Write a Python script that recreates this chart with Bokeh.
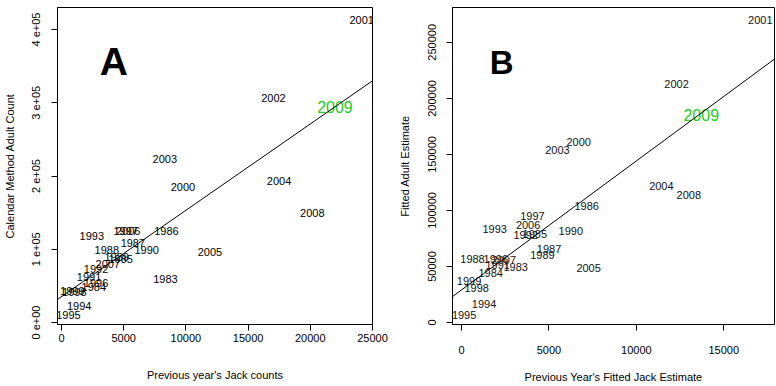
from bokeh.plotting import figure
from bokeh.layouts import row
from bokeh.models import FixedTicker, Slope, ColumnDataSource, Range1d
from bokeh.core.properties import value
from bokeh.embed import file_html
from bokeh.resources import INLINE

FONT = "Liberation Sans"

# ---------------- Panel A data ----------------
a_years = ["1983", "1984", "1985", "1986", "1987", "1988", "1989", "1990", "1991", "1992",
           "1993", "1994", "1995", "1996", "1997", "1998", "1999", "2000", "2001", "2002",
           "2003", "2004", "2005", "2006", "2007", "2008"]
a_jacks = [8360, 2600, 4760, 8440, 5740, 3650, 4440, 6850, 2220, 2780,
           2440, 1430, 560, 2780, 5160, 1030, 870, 9760, 24130, 17040,
           8310, 17490, 11930, 5360, 3730, 20160]
a_adults = [58800, 48800, 86800, 124400, 108100, 99100, 89600, 99000, 62400, 73300,
            117600, 22400, 10900, 54300, 124400, 42100, 43400, 185000, 412500, 306200,
            223500, 193100, 96700, 125100, 80100, 149300]
a_2009_x = [21980]
a_2009_y = [294000]
a_fit_intercept = 35300
a_fit_slope = 11.79
a_xticks = [0, 5000, 10000, 15000, 20000, 25000]
a_yticks = [0, 100000, 200000, 300000, 400000]
a_ytick_labels = ["0 e+00", "1 e+05", "2 e+05", "3 e+05", "4 e+05"]

# ---------------- Panel B data ----------------
b_years = ["1983", "1984", "1985", "1986", "1987", "1988", "1989", "1990", "1991", "1992",
           "1993", "1994", "1995", "1996", "1997", "1998", "1999", "2000", "2001", "2002",
           "2003", "2004", "2005", "2006", "2007", "2008"]
b_jacks = [3100, 1670, 4190, 7160, 5010, 630, 4630, 6250, 2070, 3670,
           1900, 1290, 150, 1960, 4060, 870, 430, 6700, 17090, 12300,
           5490, 11430, 7270, 3810, 2420, 13000]
b_adults = [49600, 44500, 79200, 103700, 66000, 56900, 60100, 82100, 51300, 77700,
            83600, 16700, 7000, 56600, 95100, 30800, 37200, 160900, 269900, 212400,
            153700, 121500, 48700, 87100, 56200, 114100]
b_2009_x = [13710]
b_2009_y = [185400]
b_fit_intercept = 29070
b_fit_slope = 11.51
b_xticks = [0, 5000, 10000, 15000]
b_yticks = [0, 50000, 100000, 150000, 200000, 250000]

GREEN = "#22cc22"


def style(p, xticks, yticks, ylabels, xstand, xlab_stand, ystand, ylab_stand):
    p.grid.visible = False
    p.outline_line_color = "black"
    p.outline_line_width = 1
    p.background_fill_color = "white"
    p.border_fill_color = "white"
    for ax in (p.xaxis[0], p.yaxis[0]):
        ax.axis_line_color = "black"
        ax.major_tick_line_color = "black"
        ax.minor_tick_line_color = None
        ax.major_tick_out = 6
        ax.major_tick_in = 0
        ax.major_label_text_font = FONT
        ax.major_label_text_font_size = "11px"
        ax.major_label_text_color = "black"
        ax.axis_label_text_font = FONT
        ax.axis_label_text_font_size = "11px"
        ax.axis_label_text_font_style = "normal"
        ax.axis_label_text_color = "black"
    p.xaxis[0].ticker = FixedTicker(ticks=xticks)
    p.yaxis[0].ticker = FixedTicker(ticks=yticks)
    p.xaxis[0].major_label_overrides = {t: str(t) for t in xticks}
    p.yaxis[0].major_label_overrides = {t: l for t, l in zip(yticks, ylabels)}
    p.yaxis[0].major_label_orientation = "vertical"
    p.xaxis[0].major_label_standoff = xstand
    p.xaxis[0].axis_label_standoff = xlab_stand
    p.yaxis[0].major_label_standoff = ystand
    p.yaxis[0].axis_label_standoff = ylab_stand


# ---------------- Figure A ----------------
pA = figure(width=390, height=386, output_backend="svg", toolbar_location=None,
            x_range=Range1d(-317, 25000), y_range=Range1d(-2700, 430100),
            min_border_left=53, min_border_right=18, min_border_top=7, min_border_bottom=60,
            x_axis_label="Previous year's Jack counts",
            y_axis_label="Calendar Method Adult Count")
style(pA, a_xticks, a_yticks, a_ytick_labels, 3, 24, 9, 12)
pA.add_layout(Slope(gradient=a_fit_slope, y_intercept=a_fit_intercept,
                    line_color="black", line_width=1))
srcA = ColumnDataSource(dict(x=a_jacks, y=a_adults, t=a_years))
pA.text(x="x", y="y", text="t", source=srcA, text_align="center", text_baseline="middle",
        text_font=value(FONT), text_font_size="11px", text_color="black")
pA.text(x=a_2009_x, y=a_2009_y, text=["2009"], text_align="center", text_baseline="middle",
        text_font=value(FONT), text_font_size="16px", text_color=GREEN)
pA.text(x=[4207], y=[356900], text=["A"], text_align="center", text_baseline="middle",
        text_font=value(FONT), text_font_size="39px", text_font_style="bold", text_color="black")

# ---------------- Figure B ----------------
pB = figure(width=386, height=386, output_backend="svg", toolbar_location=None,
            x_range=Range1d(-514, 17900), y_range=Range1d(-1760, 281100),
            min_border_left=62, min_border_right=2, min_border_top=3, min_border_bottom=62,
            x_axis_label="Previous Year's Fitted Jack Estimate",
            y_axis_label="Fitted Adult Estimate")
style(pB, b_xticks, b_yticks, [str(t) for t in b_yticks], 15, 14, 10, 15)
pB.add_layout(Slope(gradient=b_fit_slope, y_intercept=b_fit_intercept,
                    line_color="black", line_width=1))
srcB = ColumnDataSource(dict(x=b_jacks, y=b_adults, t=b_years))
pB.text(x="x", y="y", text="t", source=srcB, text_align="center", text_baseline="middle",
        text_font=value(FONT), text_font_size="11px", text_color="#111111")
pB.text(x=b_2009_x, y=b_2009_y, text=["2009"], text_align="center", text_baseline="middle",
        text_font=value(FONT), text_font_size="16px", text_color=GREEN)
pB.text(x=[2300], y=[232200], text=["B"], text_align="center", text_baseline="middle",
        text_font=value(FONT), text_font_size="33px", text_font_style="bold", text_color="black")

layout = row(pA, pB)
open("out.html", "w").write(file_html(layout, INLINE))
